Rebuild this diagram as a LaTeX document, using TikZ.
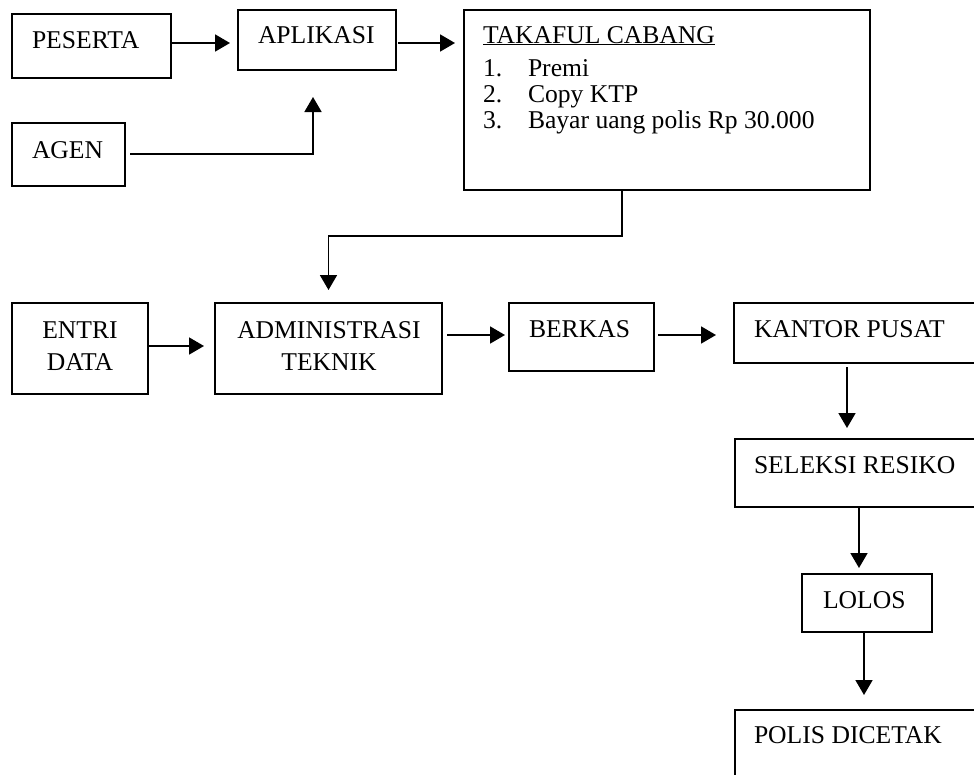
\documentclass[tikz,border=0pt]{standalone}
\usepackage{fontspec}
\setmainfont{Liberation Serif}
\usetikzlibrary{arrows.meta}

\tikzset{
  box/.style={draw, line width=1.8pt, anchor=north west, inner sep=0pt, outer sep=0pt},
  txt/.style={anchor=base west, inner sep=0pt, outer sep=0pt, font=\fontsize{25.6}{31}\selectfont},
  ctxt/.style={anchor=base, inner sep=0pt, outer sep=0pt, font=\fontsize{25.6}{31}\selectfont},
  arr/.style={line width=1.8pt, -{Triangle[length=15pt,width=17pt]}},
}

\begin{document}
\begin{tikzpicture}[x=1pt, y=-1pt]
\useasboundingbox (0,0) rectangle (974,774);
\clip (0,0) rectangle (974,774);

% boxes
\node[box, minimum width=159pt, minimum height=64pt] (peserta) at (12,14) {};
\node[box, minimum width=158pt, minimum height=60pt] (aplikasi) at (238,10) {};
\node[box, minimum width=406pt, minimum height=180pt] (takaful) at (464,10) {};
\node[box, minimum width=113pt, minimum height=63pt] (agen) at (12,123) {};
\node[box, minimum width=136pt, minimum height=91pt] (entri) at (12,303) {};
\node[box, minimum width=227pt, minimum height=91pt] (admin) at (215,303) {};
\node[box, minimum width=145pt, minimum height=68pt] (berkas) at (509,303) {};
\node[box, minimum width=260pt, minimum height=60pt] (kantor) at (734,303) {};
\node[box, minimum width=260pt, minimum height=68pt] (seleksi) at (735,439) {};
\node[box, minimum width=130pt, minimum height=58pt] (lolos) at (802,574) {};
\node[box, minimum width=260pt, minimum height=100pt] (polis) at (735,710) {};

% labels
\node[txt] (tpeserta) at (32,48) {PESERTA};
\node[txt] (taplikasi) at (258,43) {APLIKASI};
\node[txt] (tagen) at (32,158) {AGEN};
\node[txt] (ttakaful) at (483,43) {\underline{TAKAFUL CABANG}};
\node[txt] (n1) at (483,76) {1.};
\node[txt] (l1) at (528,76) {Premi};
\node[txt] (n2) at (483,102) {2.};
\node[txt] (l2) at (528,102) {Copy KTP};
\node[txt] (n3) at (483,128) {3.};
\node[txt] (l3) at (528,128) {Bayar uang polis Rp 30.000};
\node[ctxt] (tentri1) at (80,338) {ENTRI};
\node[ctxt] (tentri2) at (80,370) {DATA};
\node[ctxt] (tadmin1) at (329,338) {ADMINISTRASI};
\node[ctxt] (tadmin2) at (329,370) {TEKNIK};
\node[txt] (tberkas) at (529,337) {BERKAS};
\node[txt] (tkantor) at (754,337) {KANTOR PUSAT};
\node[txt] (tseleksi) at (754,473) {SELEKSI RESIKO};
\node[txt] (tlolos) at (823,608) {LOLOS};
\node[txt] (tpolis) at (754,743) {POLIS DICETAK};

% connector guides
\coordinate (rowa) at (0,43);
\coordinate (agenrow) at (0,154);
\coordinate (rowb) at (0,346);
\coordinate (rowc) at (0,335);
\coordinate (colk) at (847,0);
\coordinate (cols) at (859,0);
\coordinate (coll) at (864,0);

% connectors
\draw[arr, shorten >=8pt] (peserta.east |- rowa) -- (aplikasi.west |- rowa);
\draw[arr, shorten <=2pt, shorten >=9pt] (aplikasi.east |- rowa) -- (takaful.west |- rowa);
\draw[arr, shorten <=5pt, shorten >=27pt] (agen.east |- agenrow) -| ([xshift=-4pt]aplikasi.south);
\draw[arr, shorten >=13pt] ([xshift=-45pt]takaful.south) -- ++(0,46) -| (admin.north);
\draw[arr, shorten >=11pt] (entri.east |- rowb) -- (admin.west |- rowb);
\draw[arr, shorten <=5pt, shorten >=4pt] (admin.east |- rowc) -- (berkas.west |- rowc);
\draw[arr, shorten <=4pt, shorten >=18pt] (berkas.east |- rowc) -- (kantor.west |- rowc);
\draw[arr, shorten <=4pt, shorten >=11pt] (kantor.south -| colk) -- (seleksi.north -| colk);
\draw[arr, shorten >=6pt] (seleksi.south -| cols) -- (lolos.north -| cols);
\draw[arr, shorten >=15pt] (lolos.south -| coll) -- (polis.north -| coll);
\end{tikzpicture}
\end{document}
